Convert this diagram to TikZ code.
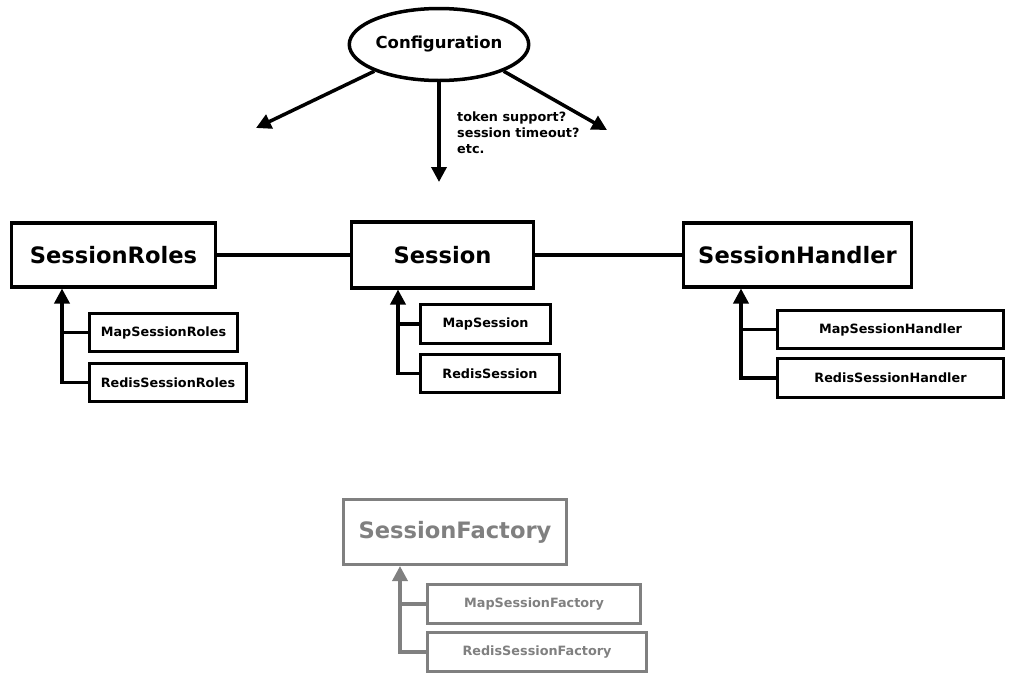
\documentclass[tikz,border=0pt]{standalone}
\usepackage{fontspec}
\setmainfont{DejaVu Sans}
\usetikzlibrary{shapes.geometric,arrows.meta}
\newlength{\du}
\setlength{\du}{1pt}
\definecolor{fadecolor}{rgb}{0.500000, 0.500000, 0.500000}

\begin{document}
\begin{tikzpicture}[
  bigbox/.style={draw, line width=3.5\du, inner sep=0pt, font=\fontsize{22.6}{27}\selectfont\bfseries},
  smallbox/.style={draw, line width=3.5\du, inner sep=0pt, font=\fontsize{12.8}{15}\selectfont\bfseries},
  link/.style={line width=3.5\du},
  tri/.style={line width=3.5\du, -{Triangle[width=15pt,length=15pt]}},
  faded/.style={draw=fadecolor, text=fadecolor}
]
\pgftransformxscale{1.000000}
\pgftransformyscale{-1.000000}
\useasboundingbox (0\du,0\du) rectangle (1020\du,681\du);
% configuration
\node[ellipse, draw, line width=3.5\du, minimum width=174\du, minimum height=72\du, inner sep=0pt, font=\fontsize{16.5}{19}\selectfont\bfseries] (config) at (439\du,44.5\du){Configuration};
\coordinate (cfgLeft) at (256\du,128\du);
\coordinate (cfgDown) at (439\du,182\du);
\coordinate (cfgRight) at (607\du,130\du);
\draw[tri] (config.south west)--(cfgLeft);
\draw[tri] (config.south)--(cfgDown);
\draw[tri] (config.south east)--(cfgRight);
\node[anchor=north west, align=left, inner sep=0pt, font=\fontsize{12.8}{16}\selectfont\bfseries] (notes) at (457\du,112\du){token support?\\session timeout?\\etc.};
% main classes
\node[bigbox, minimum width=204\du, minimum height=64\du] (roles) at (113.5\du,255\du){SessionRoles};
\node[bigbox, minimum width=182\du, minimum height=66\du] (session) at (442.5\du,255\du){Session};
\node[bigbox, minimum width=228\du, minimum height=64\du] (handler) at (797.5\du,255\du){SessionHandler};
\draw[link] (roles)--(session);
\draw[link] (session)--(handler);
% roles
\node[smallbox, minimum width=148\du, minimum height=38\du] (mapRoles) at (163.5\du,332.5\du){MapSessionRoles};
\node[smallbox, minimum width=157\du, minimum height=38\du] (redisRoles) at (168\du,382.5\du){RedisSessionRoles};
\coordinate (rolesTip) at (62\du,288.5\du);
\draw[tri] (redisRoles.west)-|(rolesTip);
\draw[link] (mapRoles.west)--(mapRoles.west -| rolesTip);
% session
\node[smallbox, minimum width=130\du, minimum height=39\du] (mapSession) at (485.5\du,324\du){MapSession};
\node[smallbox, minimum width=139\du, minimum height=38\du] (redisSession) at (490\du,373.5\du){RedisSession};
\coordinate (sessionTip) at (398\du,289.5\du);
\draw[tri] (redisSession.west)-|(sessionTip);
\draw[link] (mapSession.west)--(mapSession.west -| sessionTip);
% handler
\node[smallbox, minimum width=226\du, minimum height=38\du] (mapHandler) at (890.5\du,329.5\du){MapSessionHandler};
\node[smallbox, minimum width=226\du, minimum height=39\du] (redisHandler) at (890.5\du,378\du){RedisSessionHandler};
\coordinate (handlerTip) at (741\du,288.5\du);
\draw[tri] (redisHandler.west)-|(handlerTip);
\draw[link] (mapHandler.west)--(mapHandler.west -| handlerTip);
% factory
\node[bigbox, faded, minimum width=223\du, minimum height=65\du] (factory) at (455\du,532\du){SessionFactory};
\node[smallbox, faded, minimum width=213\du, minimum height=39\du] (mapFactory) at (534\du,604\du){MapSessionFactory};
\node[smallbox, faded, minimum width=219\du, minimum height=39\du] (redisFactory) at (537\du,652\du){RedisSessionFactory};
\coordinate (factoryTip) at (400\du,566\du);
\draw[tri, draw=fadecolor] (redisFactory.west)-|(factoryTip);
\draw[link, draw=fadecolor] (mapFactory.west)--(mapFactory.west -| factoryTip);
\end{tikzpicture}
\end{document}
